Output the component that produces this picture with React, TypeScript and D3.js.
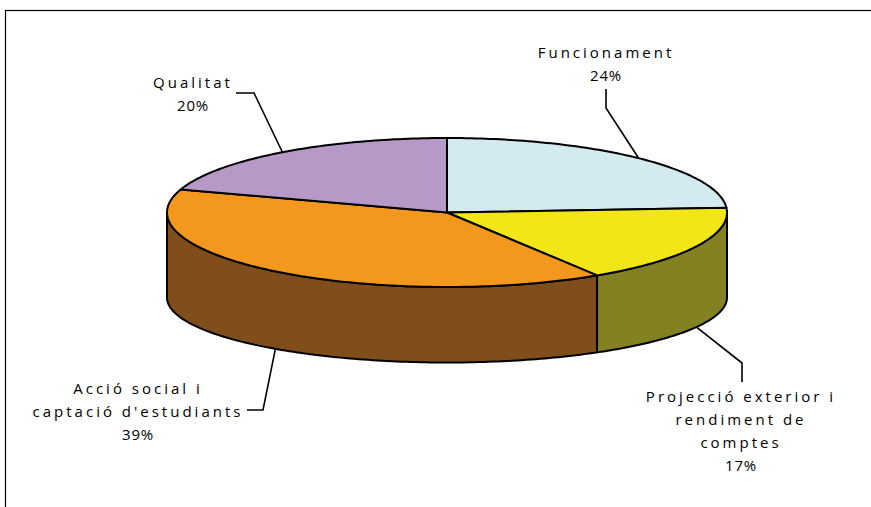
import * as d3 from "d3";

const categories = [
  "Funcionament",
  "Projecció exterior i rendiment de comptes",
  "Acció social i captació d'estudiants",
  "Qualitat",
];
const shares = [24, 17, 39, 20];
const labelLines = [
  ["Funcionament", "24%"],
  ["Projecció exterior i", "rendiment de", "comptes", "17%"],
  ["Acció social i", "captació d'estudiants", "39%"],
  ["Qualitat", "20%"],
];
const topColors = ["#D3EAF0", "#F2E616", "#F3981C", "#B699C6"];
const sideColors = ["#9DB5BB", "#838122", "#7F4E1B", "#8A6F99"];

// leader line elbow / end + text block placement, per slice
const leaders = [
  { on: "top", elbow: [606, 108], end: [606, 89], tx: 606, ty: 58 },
  { on: "bottom", elbow: [742, 363], end: [742, 382], tx: 741, ty: 402 },
  { on: "bottom", elbow: [263, 410], end: [247, 410], tx: 138, ty: 394 },
  { on: "top", elbow: [254, 93], end: [236, 93], tx: 193, ty: 88 },
];

const W = 871;
const H = 507;
const cx = 447;
const cy = 212.5;
const rx = 280;
const ry = 74.5;
const cyB = 297.5;
const ryB = 65;

const topPt = (a: number): [number, number] => [cx + rx * Math.sin(a), cy - ry * Math.cos(a)];
const botPt = (a: number): [number, number] => [cx + rx * Math.sin(a), cyB - ryB * Math.cos(a)];

export default function App() {
  const pie = d3.pie<number>().sort(null).value((d) => d);
  const arcs = pie(shares);
  const line = d3.line();

  const sample = (a0: number, a1: number, f: (a: number) => [number, number]) => {
    const n = Math.max(2, Math.ceil(((a1 - a0) * 180) / Math.PI));
    return d3.range(n + 1).map((i) => f(a0 + ((a1 - a0) * i) / n));
  };

  const walls = arcs
    .map((a, i) => {
      const s = Math.max(a.startAngle, Math.PI / 2);
      const e = Math.min(a.endAngle, (3 * Math.PI) / 2);
      if (e <= s) return null;
      const pts = [...sample(s, e, topPt), ...sample(s, e, botPt).reverse()];
      return { i, d: line(pts as [number, number][]) + "Z" };
    })
    .filter(Boolean) as { i: number; d: string }[];

  const tops = arcs.map((a, i) => {
    const pts = [[cx, cy] as [number, number], ...sample(a.startAngle, a.endAngle, topPt)];
    return { i, d: line(pts) + "Z" };
  });

  const font = "'Open Sans', 'DejaVu Sans', sans-serif";

  return (
    <svg width={W} height={H} style={{ position: "absolute", left: 0, top: 0, background: "#fff" }}>
      <rect x={5.5} y={10.5} width={W + 20} height={H + 20} fill="none" stroke="#000" strokeWidth={1.2} />
      {walls.map((w) => (
        <path key={"w" + w.i} d={w.d} fill={sideColors[w.i]} stroke="#000" strokeWidth={2} strokeLinejoin="round" />
      ))}
      {tops.map((t) => (
        <path key={"t" + t.i} d={t.d} fill={topColors[t.i]} stroke="#000" strokeWidth={2} strokeLinejoin="round" />
      ))}
      {arcs.map((a, i) => {
        const mid = (a.startAngle + a.endAngle) / 2;
        const L = leaders[i];
        const p = L.on === "top" ? topPt(mid) : botPt(mid);
        return (
          <path
            key={"l" + i}
            d={line([p, L.elbow as [number, number], L.end as [number, number]]) || ""}
            fill="none"
            stroke="#000"
            strokeWidth={1.6}
          />
        );
      })}
      {labelLines.map((lines, i) => (
        <text
          key={"tx" + i}
          x={leaders[i].tx}
          y={leaders[i].ty}
          textAnchor="middle"
          fontFamily={font}
          fontSize={15}
          fill="#000"
          aria-label={categories[i]}
        >
          {lines.map((s, j) => (
            <tspan
              key={j}
              x={leaders[i].tx}
              y={leaders[i].ty + j * 23}
              letterSpacing={s.endsWith("%") ? 0.8 : 3}
            >
              {s}
            </tspan>
          ))}
        </text>
      ))}
    </svg>
  );
}
